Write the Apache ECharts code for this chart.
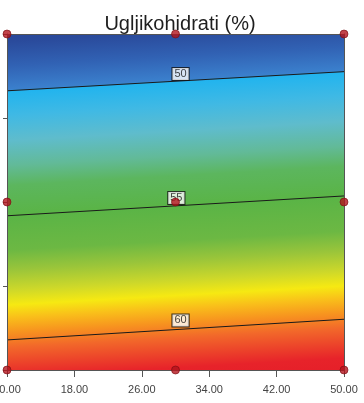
<!DOCTYPE html>
<html>
<head>
<meta charset="utf-8">
<script src="https://cdn.jsdelivr.net/npm/echarts@6/dist/echarts.min.js"></script>
<style>
  html, body { margin: 0; padding: 0; background: #fff; }
  #contour-plot { width: 364px; height: 403px; }
</style>
</head>
<body>
<div id="contour-plot"></div>
<script>
// factor A along x, coded factor B along y
const xTicks = [10, 18, 26, 34, 42, 50]
const yTicks = [-1, -0.5, 0, 0.5, 1]

// contour levels and where each line meets the left (x=10) and right (x=50) edges
const contourLevels = [50, 55, 60]
const contourLeftY = [0.662, -0.082, -0.821]
const contourRightY = [0.776, 0.036, -0.698]

// contour label boxes
const labelX = [30.6, 30.1, 30.6]
const labelY = [0.762, 0.024, -0.705]

// design points
const designX = [10, 30, 50, 10, 30, 50, 10, 30, 50]
const designY = [1, 1, 1, 0, 0, 0, -1, -1, -1]

// colour scale of the response (value -> colour)
const scaleValues = [47.5, 48.0, 49.0, 49.95, 50.05, 51.0, 52.0, 53.0, 53.8, 55.0, 56.4, 57.2, 58.0, 58.6, 59.1, 59.7, 60.3, 61.5, 62.5]
const scaleColors = ['#28469a', '#2a4a9b', '#3162b4', '#3b80cd', '#22b4ee', '#40b9e4', '#5fbccc', '#62ba98', '#5cb65e',
  '#5ab446', '#6cb843', '#9ac53a', '#cdd82a', '#f6e912', '#f9c01a', '#f7931f', '#f2682a', '#e7232a', '#e41c28']

const chart = echarts.init(document.getElementById('contour-plot'))

const lineSeries = contourLevels.map((lvl, i) => ({
  name: 'contour ' + lvl,
  type: 'line',
  z: 3,
  symbol: 'none',
  silent: true,
  lineStyle: { color: '#1a1a1a', width: 1 },
  data: [[xTicks[0], contourLeftY[i]], [xTicks[xTicks.length - 1], contourRightY[i]]]
}))

function renderSurface(params, api) {
  const p0 = api.coord([api.value(0), api.value(1)])
  const p1 = api.coord([api.value(2), api.value(1)])
  const p2 = api.coord([api.value(2), api.value(3)])
  const p3 = api.coord([api.value(0), api.value(3)])
  // direction of the contours, from the first and last level
  const aL = api.coord([xTicks[0], contourLeftY[0]])
  const aR = api.coord([xTicks[xTicks.length - 1], contourRightY[0]])
  const bL = api.coord([xTicks[0], contourLeftY[contourLevels.length - 1]])
  let dx = aR[0] - aL[0], dy = aR[1] - aL[1]
  const len = Math.sqrt(dx * dx + dy * dy)
  dx /= len; dy /= len
  const nx = -dy, ny = dx
  const span = (bL[0] - aL[0]) * nx + (bL[1] - aL[1]) * ny
  const perUnit = span / (contourLevels[contourLevels.length - 1] - contourLevels[0])
  const vLo = scaleValues[0], vHi = scaleValues[scaleValues.length - 1]
  const sx = aL[0] + nx * (vLo - contourLevels[0]) * perUnit
  const sy = aL[1] + ny * (vLo - contourLevels[0]) * perUnit
  const ex = aL[0] + nx * (vHi - contourLevels[0]) * perUnit
  const ey = aL[1] + ny * (vHi - contourLevels[0]) * perUnit
  const stops = scaleValues.map((v, i) => ({ offset: (v - vLo) / (vHi - vLo), color: scaleColors[i] }))
  return {
    type: 'polygon',
    shape: { points: [p0, p1, p2, p3] },
    style: { fill: new echarts.graphic.LinearGradient(sx, sy, ex, ey, stops, true) }
  }
}

const option = {
  animation: false,
  title: {
    text: 'Ugljikohidrati (%)',
    left: 175,
    textAlign: 'center',
    top: 9,
    textStyle: { fontFamily: 'Liberation Sans', fontSize: 20, fontWeight: 'normal', color: '#1e1e1e' }
  },
  grid: { left: 7, right: 20, top: 34, bottom: 33, outerBoundsMode: 'none', containLabel: false },
  xAxis: [{
    type: 'value',
    position: 'bottom',
    min: 10, max: 50, interval: 8,
    z: 5,
    axisLine: { onZero: false, lineStyle: { color: '#555', width: 1 } },
    axisTick: { show: true, length: 7, lineStyle: { color: '#555' } },
    axisLabel: {
      margin: 14, fontFamily: 'Liberation Sans', fontSize: 11, color: '#444',
      formatter: v => v.toFixed(2)
    },
    splitLine: { show: false }
  }, {
    type: 'value',
    position: 'top',
    min: 10, max: 50, interval: 8,
    z: 5,
    axisLine: { show: true, onZero: false, lineStyle: { color: '#555', width: 1 } },
    axisTick: { show: false },
    axisLabel: { show: false },
    splitLine: { show: false }
  }],
  yAxis: [{
    type: 'value',
    position: 'left',
    min: -1, max: 1, interval: 0.5,
    z: 5,
    axisLine: { show: true, onZero: false, lineStyle: { color: '#555', width: 1 } },
    axisTick: { show: true, length: 4, lineStyle: { color: '#555' } },
    axisLabel: { show: false },
    splitLine: { show: false }
  }, {
    type: 'value',
    position: 'right',
    min: -1, max: 1, interval: 0.5,
    z: 5,
    axisLine: { show: true, onZero: false, lineStyle: { color: '#555', width: 1 } },
    axisTick: { show: false },
    axisLabel: { show: false },
    splitLine: { show: false }
  }],
  series: [
    {
      name: 'surface',
      type: 'custom',
      z: 1,
      silent: true,
      renderItem: renderSurface,
      data: [[xTicks[0], yTicks[0], xTicks[xTicks.length - 1], yTicks[yTicks.length - 1]]]
    },
    ...lineSeries,
    {
      name: 'contour labels',
      type: 'scatter',
      z: 4,
      silent: true,
      symbolSize: 0,
      label: {
        show: true,
        position: 'inside',
        formatter: p => String(contourLevels[p.dataIndex]),
        fontFamily: 'Liberation Sans',
        fontSize: 11,
        color: '#111',
        backgroundColor: '#fff',
        borderColor: '#111',
        borderWidth: 1,
        padding: [1, 2, 0, 2]
      },
      data: labelX.map((x, i) => [x, labelY[i]])
    },
    {
      name: 'design points',
      type: 'scatter',
      z: 10,
      symbolSize: 8,
      itemStyle: { color: '#b3141d', borderColor: '#7a0c12', borderWidth: 0.8 },
      data: designX.map((x, i) => [x, designY[i]])
    }
  ]
}

chart.setOption(option)
</script>
</body>
</html>
